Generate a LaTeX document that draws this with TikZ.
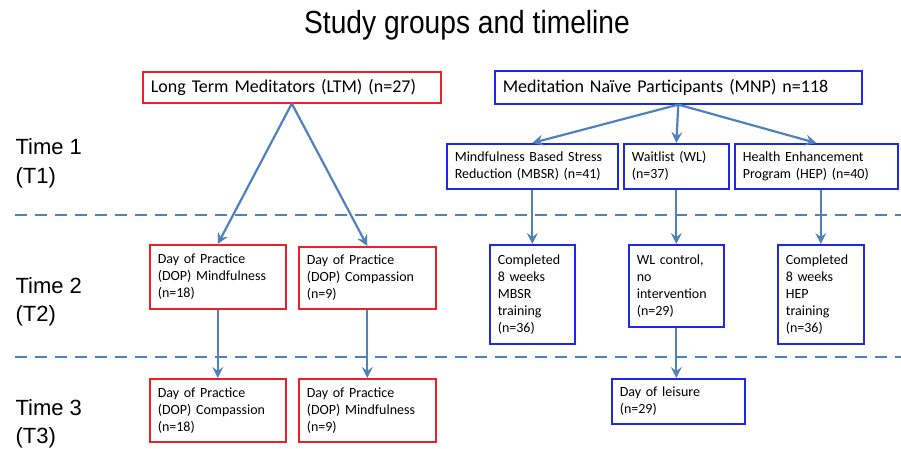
\documentclass[tikz,border=0pt]{standalone}
\usepackage{fontspec}
\setmainfont{Carlito}
\newfontfamily\headfont{Liberation Sans}
\usetikzlibrary{arrows.meta}

\definecolor{ltmred}{RGB}{236,32,38}
\definecolor{mnpblue}{RGB}{30,40,235}
\definecolor{flowblue}{RGB}{79,129,189}

\tikzset{
  box/.style={draw, line width=1.6pt, align=left, anchor=north west,
    inner xsep=8pt, inner ysep=2pt, font=\fontsize{14}{17}\selectfont},
  ltmbox/.style={box, draw=ltmred},
  mnpbox/.style={box, draw=mnpblue},
  bigtext/.style={font=\fontsize{18}{21}\selectfont},
  flow/.style={-{Stealth[length=11pt,width=11pt,inset=4pt]}, draw=flowblue, line width=2.2pt},
  timeline/.style={draw=flowblue, line width=2.4pt, dash pattern=on 12pt off 8pt},
  timelabel/.style={anchor=base west, font=\headfont\fontsize{22}{26}\selectfont, align=left},
}

\begin{document}
\begin{tikzpicture}[x=1pt,y=-1pt]
  \useasboundingbox (0,0) rectangle (901,449);

  \node[anchor=base, xscale=0.88, font=\headfont\fontsize{32}{36}\selectfont] (title) at (467,34) {Study groups and timeline};

  % time labels and separators
  \node[timelabel] (t1a) at (12,155) {Time 1};
  \node[timelabel] (t1b) at (12,183) {(T1)};
  \node[timelabel] (t2a) at (12,293) {Time 2};
  \node[timelabel] (t2b) at (12,321) {(T2)};
  \node[timelabel] (t3a) at (12,415) {Time 3};
  \node[timelabel] (t3b) at (12,443) {(T3)};
  \draw[timeline] (15,215) -- (901,215);
  \draw[timeline] (15,357) -- (901,357);

  % T1
  \node[ltmbox, bigtext, text width=282pt, minimum height=31pt] (ltm) at (142,71) {Long Term Meditators (LTM) (n=27)};
  \node[mnpbox, bigtext, text width=351pt, minimum height=33pt] (mnp) at (494,70) {Meditation Na\"ive Participants (MNP) n=118};
  \node[mnpbox, text width=155pt, minimum height=45pt] (mbsr) at (446,143) {Mindfulness Based Stress\\Reduction (MBSR) (n=41)};
  \node[mnpbox, text width=89pt, minimum height=45pt] (wl) at (623,143) {Waitlist (WL)\\(n=37)};
  \node[mnpbox, text width=147pt, minimum height=45pt] (hep) at (734,143) {Health Enhancement\\Program (HEP) (n=40)};

  % T2
  \node[ltmbox, text width=120pt, minimum height=64pt] (dopm) at (149,244) {Day of Practice\\(DOP) Mindfulness\\(n=18)};
  \node[ltmbox, text width=121pt, minimum height=62pt] (dopc) at (298,246) {Day of Practice\\(DOP) Compassion\\(n=9)};
  \node[mnpbox, text width=69pt, minimum height=99pt] (cmbsr) at (489,244) {Completed\\8 weeks\\MBSR\\training\\(n=36)};
  \node[mnpbox, text width=79pt, minimum height=82pt] (wlc) at (628,244) {WL control,\\no\\intervention\\(n=29)};
  \node[mnpbox, text width=70pt, minimum height=99pt] (chep) at (777,244) {Completed\\8 weeks\\HEP\\training\\(n=36)};

  % T3
  \node[ltmbox, text width=120pt, minimum height=63pt] (dopcc) at (149,378) {Day of Practice\\(DOP) Compassion\\(n=18)};
  \node[ltmbox, text width=121pt, minimum height=63pt] (dopmm) at (298,378) {Day of Practice\\(DOP) Mindfulness\\(n=9)};
  \node[mnpbox, text width=117pt, minimum height=45pt] (leis) at (611,378) {Day of leisure\\(n=29)};

  \draw[flow] (ltm.south) -- (dopm.north);
  \draw[flow] (ltm.south) -- (dopc.north);
  \draw[flow] (mnp.south) -- (mbsr.north);
  \draw[flow] (mnp.south) -- (wl.north);
  \draw[flow] (mnp.south) -- (hep.north);
  \draw[flow] (mbsr.south) -- (cmbsr.north);
  \draw[flow] (wl.south) -- (wlc.north);
  \draw[flow] (chep.north |- hep.south) -- (chep.north);
  \draw[flow] (dopm.south) -- (dopcc.north);
  \draw[flow] (dopc.south) -- (dopmm.north);
  \draw[flow] (wlc.south) -- (wlc.south |- leis.north);
\end{tikzpicture}
\end{document}
